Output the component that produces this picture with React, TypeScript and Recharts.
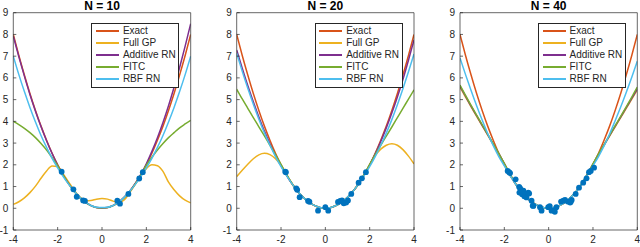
import React from 'react';
import { ComposedChart, Line, Scatter, XAxis, YAxis } from 'recharts';

const X_GRID = [-4, -3.75, -3.5, -3.25, -3, -2.75, -2.5, -2.25, -2, -1.75, -1.5, -1.25, -1, -0.75, -0.5, -0.25, 0, 0.25, 0.5, 0.75, 1, 1.25, 1.5, 1.75, 2, 2.25, 2.5, 2.75, 3, 3.25, 3.5, 3.75, 4];

const EXACT = [8, 7.03, 6.13, 5.28, 4.5, 3.78, 3.13, 2.53, 2, 1.53, 1.13, 0.78, 0.5, 0.28, 0.13, 0.03, 0, 0.03, 0.13, 0.28, 0.5, 0.78, 1.13, 1.53, 2, 2.53, 3.13, 3.78, 4.5, 5.28, 6.13, 7.03, 8];

const FULL_GP_10 = [0.18, 0.3, 0.48, 0.72, 1.02, 1.38, 1.72, 1.95, 1.92, 1.58, 1.2, 0.82, 0.52, 0.35, 0.36, 0.42, 0.45, 0.42, 0.33, 0.26, 0.38, 0.72, 1.1, 1.48, 1.82, 2.0, 1.96, 1.7, 1.2, 0.85, 0.57, 0.37, 0.25];
const ADD_RN_10 = [7.92, 6.97, 6.08, 5.24, 4.47, 3.76, 3.11, 2.52, 1.99, 1.52, 1.12, 0.77, 0.49, 0.27, 0.12, 0.04, 0.02, 0.04, 0.12, 0.27, 0.5, 0.78, 1.14, 1.56, 2.05, 2.62, 3.25, 3.95, 4.72, 5.57, 6.48, 7.46, 8.5];
const FITC_10 = [4.0, 3.85, 3.68, 3.48, 3.25, 2.98, 2.68, 2.33, 1.96, 1.53, 1.12, 0.77, 0.49, 0.27, 0.12, 0.04, 0.02, 0.04, 0.12, 0.27, 0.49, 0.77, 1.12, 1.53, 1.98, 2.35, 2.68, 2.98, 3.25, 3.48, 3.7, 3.88, 4.05];
const RBF_RN_10 = [7.0, 6.15, 5.37, 4.64, 3.97, 3.35, 2.8, 2.3, 1.86, 1.46, 1.1, 0.78, 0.5, 0.28, 0.13, 0.05, 0.03, 0.05, 0.13, 0.28, 0.5, 0.78, 1.1, 1.46, 1.86, 2.3, 2.8, 3.35, 3.97, 4.64, 5.37, 6.15, 7.0];

const FULL_GP_20 = [1.46, 1.75, 2.03, 2.28, 2.46, 2.53, 2.47, 2.28, 1.97, 1.55, 1.13, 0.78, 0.5, 0.29, 0.13, 0.03, 0, 0.04, 0.14, 0.3, 0.5, 0.78, 1.13, 1.54, 2.0, 2.42, 2.72, 2.9, 2.97, 2.9, 2.7, 2.4, 2.04];
const ADD_RN_20 = [7.28, 6.45, 5.65, 4.9, 4.2, 3.55, 2.97, 2.44, 1.96, 1.52, 1.12, 0.78, 0.5, 0.28, 0.13, 0.04, 0.01, 0.04, 0.13, 0.28, 0.5, 0.78, 1.13, 1.54, 2.0, 2.5, 3.07, 3.7, 4.38, 5.12, 5.93, 6.81, 7.75];
const FITC_20 = [5.48, 5.03, 4.6, 4.17, 3.75, 3.33, 2.9, 2.47, 2.02, 1.56, 1.13, 0.78, 0.5, 0.28, 0.13, 0.04, 0.01, 0.04, 0.13, 0.28, 0.5, 0.78, 1.13, 1.56, 2.02, 2.47, 2.9, 3.32, 3.74, 4.17, 4.6, 5.02, 5.45];
const RBF_RN_20 = [7.13, 6.3, 5.52, 4.79, 4.1, 3.47, 2.9, 2.38, 1.92, 1.5, 1.12, 0.78, 0.5, 0.28, 0.13, 0.04, 0.01, 0.04, 0.13, 0.28, 0.5, 0.78, 1.12, 1.5, 1.92, 2.38, 2.9, 3.46, 4.08, 4.76, 5.5, 6.28, 7.1];

const FULL_GP_40 = [5.57, 5.12, 4.67, 4.23, 3.8, 3.37, 2.93, 2.5, 2.05, 1.58, 1.14, 0.78, 0.5, 0.28, 0.13, 0.04, 0.01, 0.04, 0.13, 0.28, 0.5, 0.78, 1.14, 1.57, 2.02, 2.47, 2.9, 3.32, 3.75, 4.17, 4.6, 5.02, 5.45];
const ADD_RN_40 = [5.62, 5.16, 4.7, 4.26, 3.82, 3.39, 2.95, 2.51, 2.05, 1.58, 1.14, 0.78, 0.5, 0.28, 0.13, 0.04, 0.01, 0.04, 0.13, 0.28, 0.5, 0.78, 1.14, 1.57, 2.03, 2.48, 2.91, 3.34, 3.77, 4.2, 4.63, 5.06, 5.5];
const FITC_40 = [5.67, 5.2, 4.74, 4.29, 3.85, 3.41, 2.97, 2.52, 2.06, 1.58, 1.14, 0.78, 0.5, 0.28, 0.13, 0.04, 0.01, 0.04, 0.13, 0.28, 0.5, 0.78, 1.14, 1.57, 2.04, 2.5, 2.93, 3.37, 3.8, 4.23, 4.67, 5.12, 5.57];
const RBF_RN_40 = [6.92, 6.15, 5.42, 4.72, 4.06, 3.44, 2.88, 2.38, 1.95, 1.53, 1.13, 0.78, 0.5, 0.28, 0.13, 0.04, 0.01, 0.04, 0.13, 0.28, 0.5, 0.78, 1.13, 1.53, 1.95, 2.38, 2.87, 3.42, 4.03, 4.66, 5.33, 6.03, 6.77];

const PTS_10_X = [-1.82, -1.29, -1.14, -0.85, -0.77, 0.69, 0.81, 1.19, 1.68, 1.84];
const PTS_10_Y = [1.68, 0.87, 0.53, 0.36, 0.34, 0.35, 0.21, 0.66, 1.37, 1.66];

const PTS_20_X = [-1.81, -1.78, -1.31, -1.27, -1.16, -0.78, -0.72, -0.33, 0.0, 0.13, 0.57, 0.67, 0.75, 0.83, 0.94, 1.02, 1.17, 1.5, 1.65, 1.83];
const PTS_20_Y = [1.68, 1.66, 0.92, 0.85, 0.51, 0.34, 0.3, -0.11, 0.05, -0.11, 0.29, 0.34, 0.36, 0.23, 0.26, 0.36, 0.66, 1.18, 1.38, 1.66];

const PTS_40_X = [-1.85, -1.78, -1.74, -1.49, -1.33, -1.29, -1.25, -1.32, -1.2, -1.14, -1.1, -1.07, -1.0, -0.92, -0.88, -0.77, -0.72, -0.69, -0.39, -0.32, -0.02, 0.05, 0.13, 0.22, 0.28, 0.35, 0.56, 0.66, 0.74, 0.86, 0.97, 1.04, 1.0, 1.22, 1.37, 1.56, 1.71, 1.82, 1.9, 2.05];
const PTS_40_Y = [1.72, 1.66, 1.62, 1.33, 0.98, 0.93, 0.84, 0.72, 0.65, 0.81, 0.55, 0.61, 0.5, 0.72, 0.68, 0.35, 0.12, 0.11, 0.05, -0.11, 0.05, 0.1, -0.11, -0.1, -0.16, 0.05, 0.31, 0.35, 0.38, 0.31, 0.26, 0.38, 0.3, 0.66, 0.95, 1.18, 1.38, 1.66, 1.72, 1.87];

const TITLES = ['N = 10', 'N = 20', 'N = 40'];
const SERIES_NAMES = ['Exact', 'Full GP', 'Additive RN', 'FITC', 'RBF RN'];
const SERIES_COLORS = ['#D95319', '#EDB120', '#7E2F8E', '#77AC30', '#4DBEEE'];
const POINT_COLOR = '#0072BD';
const X_TICKS = [-4, -2, 0, 2, 4];
const Y_TICKS = [-1, 0, 1, 2, 3, 4, 5, 6, 7, 8, 9];

const PANEL_SERIES = [
  [EXACT, FULL_GP_10, ADD_RN_10, FITC_10, RBF_RN_10],
  [EXACT, FULL_GP_20, ADD_RN_20, FITC_20, RBF_RN_20],
  [EXACT, FULL_GP_40, ADD_RN_40, FITC_40, RBF_RN_40],
];
const PANEL_POINTS = [
  [PTS_10_X, PTS_10_Y],
  [PTS_20_X, PTS_20_Y],
  [PTS_40_X, PTS_40_Y],
];

const W = 640;
const H = 247;
const PLOT_TOP = 12.7;
const PLOT_BOTTOM = 230;
const PLOTS = [
  { left: 13.3, right: 190.7 },
  { left: 236.7, right: 414 },
  { left: 460, right: 637.3 },
];
const FONT = '"Liberation Sans", Arial, Helvetica, sans-serif';
const AXIS_COLOR = '#262626';
const AX = 1; // axis band size

const toLine = (ys: number[]) => X_GRID.map((x, i) => ({ x, y: ys[i] }));
const toPoints = (xs: number[], ys: number[]) => xs.map((x, i) => ({ x, y: ys[i] }));

const Dot = (p: any) => <circle cx={p.cx} cy={p.cy} r={2.9} fill={POINT_COLOR} />;

function Panel({ idx }: { idx: number }) {
  const pl = PLOTS[idx];
  const series = PANEL_SERIES[idx];
  const [px, py] = PANEL_POINTS[idx];
  const tickStyle = { fontSize: 10, fill: AXIS_COLOR, fontFamily: FONT };
  return (
    <div style={{ position: 'absolute', left: 0, top: 0, width: W, height: H }}>
      <ComposedChart
        width={W}
        height={H}
        margin={{ top: PLOT_TOP - AX, bottom: H - PLOT_BOTTOM - AX, left: pl.left - AX, right: W - pl.right - AX }}
      >
        <XAxis
          xAxisId={0}
          dataKey="x"
          type="number"
          domain={[-4, 4]}
          ticks={X_TICKS}
          interval={0}
          height={AX}
          stroke={AXIS_COLOR}
          strokeWidth={0.7}
          tickSize={-3}
          tickMargin={9}
          tick={tickStyle}
          allowDataOverflow
        />
        <XAxis
          xAxisId="top"
          orientation="top"
          dataKey="x"
          type="number"
          domain={[-4, 4]}
          ticks={X_TICKS}
          interval={0}
          height={AX}
          stroke={AXIS_COLOR}
          strokeWidth={0.7}
          tickSize={-3}
          tick={false}
        />
        <YAxis
          yAxisId={0}
          type="number"
          domain={[-1, 9]}
          ticks={Y_TICKS}
          interval={0}
          width={AX}
          stroke={AXIS_COLOR}
          strokeWidth={0.7}
          tickSize={-3}
          tickMargin={8}
          tick={tickStyle}
          allowDataOverflow
        />
        <YAxis
          yAxisId="right"
          orientation="right"
          type="number"
          domain={[-1, 9]}
          ticks={Y_TICKS}
          interval={0}
          width={AX}
          stroke={AXIS_COLOR}
          strokeWidth={0.7}
          tickSize={-3}
          tick={false}
        />
        <Scatter
          data={toPoints(px, py)}
          dataKey="y"
          xAxisId={0}
          yAxisId={0}
          shape={Dot}
          isAnimationActive={false}
        />
        {series.map((ys, i) => (
          <Line
            key={SERIES_NAMES[i]}
            data={toLine(ys)}
            dataKey="y"
            xAxisId={0}
            yAxisId={0}
            type="monotone"
            stroke={SERIES_COLORS[i]}
            strokeWidth={1.5}
            dot={false}
            activeDot={false}
            isAnimationActive={false}
          />
        ))}
      </ComposedChart>
      <div
        style={{
          position: 'absolute',
          left: pl.left,
          width: pl.right - pl.left,
          top: 0,
          textAlign: 'center',
          fontFamily: FONT,
          fontWeight: 'bold',
          fontSize: 12,
          lineHeight: '13.5px',
          color: '#000',
        }}
      >
        {TITLES[idx]}
      </div>
      <div
        style={{
          position: 'absolute',
          left: pl.right - 11.3 - 88,
          top: 22.5,
          width: 88,
          height: 65,
          boxSizing: 'border-box',
          border: `1px solid ${AXIS_COLOR}`,
          background: '#fff',
          paddingTop: 1.5,
          fontFamily: FONT,
          fontSize: 10,
          color: AXIS_COLOR,
        }}
      >
        {SERIES_NAMES.map((name, i) => (
          <div key={name} style={{ display: 'flex', alignItems: 'center', height: 12 }}>
            <div style={{ width: 23, height: 1.5, background: SERIES_COLORS[i], marginLeft: 3.5, marginRight: 4 }} />
            <span style={{ whiteSpace: 'nowrap', lineHeight: '12px' }}>{name}</span>
          </div>
        ))}
      </div>
    </div>
  );
}

export default function App() {
  return (
    <div style={{ position: 'absolute', left: 0, top: 0, width: W, height: H, background: '#fff', overflow: 'hidden' }}>
      {[0, 1, 2].map((i) => (
        <Panel key={i} idx={i} />
      ))}
    </div>
  );
}
